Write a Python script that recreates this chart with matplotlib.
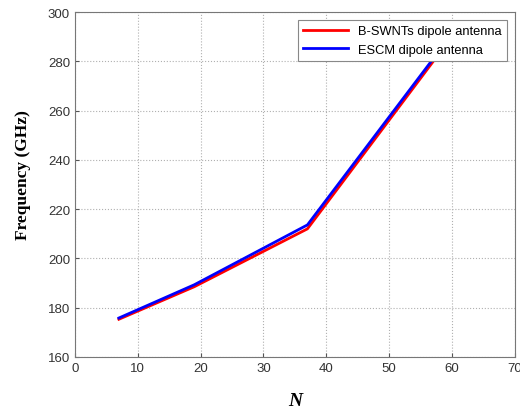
import matplotlib
matplotlib.use("Agg")
import matplotlib.pyplot as plt

# Resonant frequency versus number of nanotubes N
n_values = [7, 19, 37, 61]
freq_bswnt = [175.3, 188.5, 212.0, 293.5]
freq_escm = [175.8, 189.3, 213.6, 294.5]

x_ticks = [0, 10, 20, 30, 40, 50, 60, 70]
y_ticks = [160, 180, 200, 220, 240, 260, 280, 300]

fig = plt.figure(figsize=(5.2, 4.1), dpi=100)
ax = fig.add_axes([0.144, 0.127, 0.846, 0.841])

ax.plot(n_values, freq_bswnt, color="#ff0000", lw=2.0, label="B-SWNTs dipole antenna")
ax.plot(n_values, freq_escm, color="#0000ff", lw=2.0, label="ESCM dipole antenna")

ax.set_xlim(0, 70)
ax.set_ylim(160, 300)
ax.set_xticks(x_ticks)
ax.set_yticks(y_ticks)
ax.grid(True, linestyle=":", color="#b0b0b0", lw=0.8)
ax.tick_params(direction="in", length=3, color="#555555", labelcolor="#333333",
               labelsize=9.5)
for lbl in ax.get_xticklabels() + ax.get_yticklabels():
    lbl.set_fontfamily("Liberation Sans")
for s in ax.spines.values():
    s.set_color("#777777")
    s.set_linewidth(0.8)

ax.set_ylabel("Frequency (GHz)", fontfamily="Liberation Serif", fontweight="bold",
              fontsize=12.5)
ax.yaxis.set_label_coords(-0.10, 0.53)
ax.set_xlabel("N", fontfamily="Liberation Serif", fontweight="bold", fontstyle="italic",
              fontsize=14, labelpad=13)

leg = ax.legend(loc="upper right", prop={"family": "Liberation Sans", "size": 9.3},
                fancybox=False, framealpha=1, edgecolor="#888888",
                handlelength=3.5, borderaxespad=0.6, borderpad=0.4)
leg.get_frame().set_linewidth(0.8)

fig.savefig("out.png", dpi=100)
